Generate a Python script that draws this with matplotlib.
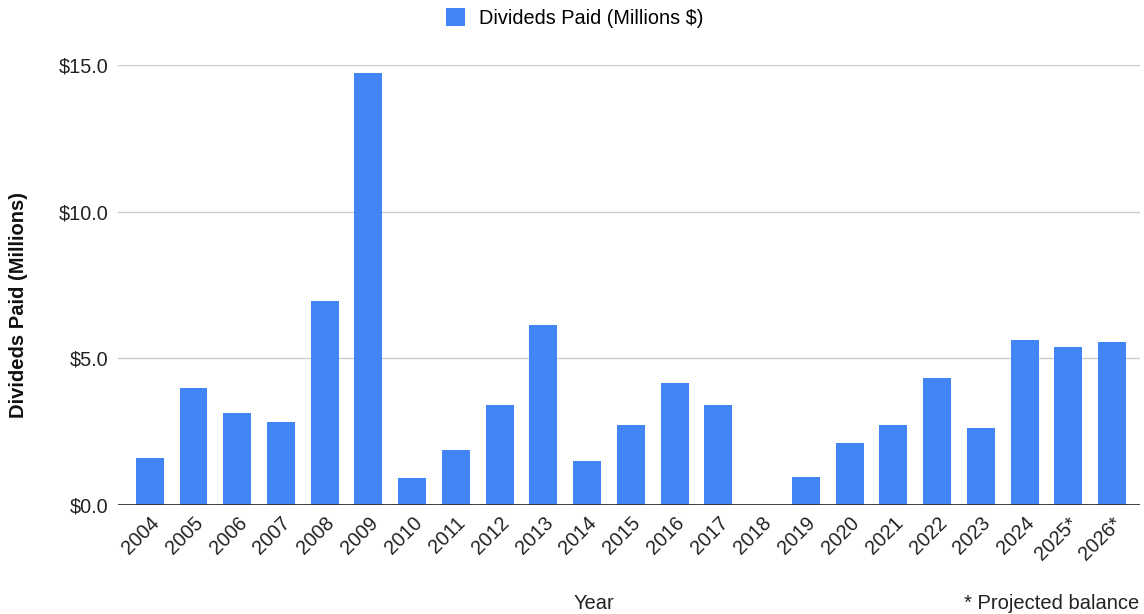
import numpy as np
import matplotlib.pyplot as plt
from matplotlib.ticker import FuncFormatter

plt.rcParams['font.family'] = ['Liberation Sans', 'DejaVu Sans']

years = ["2004", "2005", "2006", "2007", "2008", "2009", "2010", "2011",
         "2012", "2013", "2014", "2015", "2016", "2017", "2018", "2019",
         "2020", "2021", "2022", "2023", "2024", "2025*", "2026*"]
dividends = [1.60, 3.99, 3.14, 2.83, 6.96, 14.73, 0.92, 1.88, 3.41, 6.14,
             1.50, 2.73, 4.16, 3.41, 0.0, 0.95, 2.11, 2.73, 4.33, 2.62,
             5.63, 5.39, 5.56]

fig = plt.figure(figsize=(11.44, 6.14), dpi=100)
ax = fig.add_axes([0.103, 0.1775, 0.8935, 0.7165])

xlocs = np.arange(len(years))
ax.bar(xlocs, dividends, 0.64, color="#4285F4",
       label="Divideds Paid (Millions $)", zorder=3)

ax.set_xlim(-0.73, len(years) - 1 + 0.64)
ax.set_ylim(0, 15)
ax.set_yticks([0, 5, 10, 15])
ax.yaxis.set_major_formatter(FuncFormatter(lambda v, p: "$%.1f" % v))
ax.grid(axis="y", color="#cccccc", linewidth=1, zorder=0)
ax.axhline(0, color="#333333", linewidth=1.3, zorder=4)
for s in ax.spines.values():
    s.set_visible(False)
ax.tick_params(axis="both", length=0, labelsize=14.3, colors="#222222")
ax.tick_params(axis="y", pad=7)
ax.tick_params(axis="x", pad=6)
ax.set_xticks(xlocs)
ax.set_xticklabels(years, rotation=45, ha="right", rotation_mode="anchor")

# y label sits a bit lower than the axes centre in the original
fig.text(0.016, 0.503, "Divideds Paid (Millions)", fontsize=14.5,
         fontweight="bold", color="#111111", rotation=90,
         ha="center", va="center")
fig.text(0.519, 0.008, "Year", fontsize=14.5, color="#222222", ha="center")
fig.text(0.996, 0.008, "* Projected balance", fontsize=14.5, color="#222222",
         ha="right")

ax.legend(loc="upper center", bbox_to_anchor=(0.447, 1.17), frameon=False,
          fontsize=14.3, handlelength=1.0, handleheight=1.0,
          handletextpad=0.7)

plt.savefig("out.png", dpi=100)
